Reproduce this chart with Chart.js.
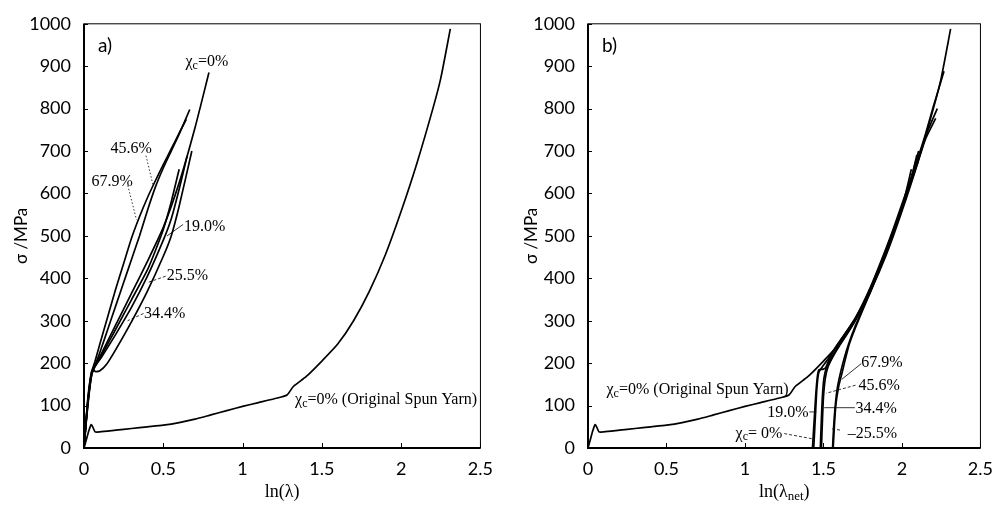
<!DOCTYPE html>
<html>
<head>
<meta charset="utf-8">
<script src="https://cdn.jsdelivr.net/npm/chart.js@4"></script>
<style>
  body { margin: 0; background: #fff; width: 1003px; height: 508px; position: relative; overflow: hidden; }
  .panel { position: absolute; top: 0; height: 508px; width: 503px; }
  #pa { left: 0; }
  #pb { left: 500px; }
</style>
</head>
<body>
<div class="panel" id="pa"><canvas id="chartA"></canvas></div>
<div class="panel" id="pb"><canvas id="chartB"></canvas></div>
<script>
// tick values
const xTickValues = [0, 0.5, 1, 1.5, 2, 2.5];
const yTickValues = [0, 100, 200, 300, 400, 500, 600, 700, 800, 900, 1000];

// original spun yarn (same curve in both panels) [ln(lambda), sigma MPa]
const spunYarn = [[0,0],[0.015,20],[0.03,40],[0.045,55],[0.055,50],[0.07,38],[0.1,38],[0.2,42],[0.3,46],[0.4,50],
  [0.5,54],[0.6,60],[0.7,68],[0.8,78],[0.9,88],[1.0,98],[1.1,107],[1.2,116],[1.28,125],[1.32,145],[1.4,168],
  [1.5,205],[1.6,245],[1.7,300],[1.8,370],[1.9,455],[2.0,558],[2.1,672],[2.2,800],[2.25,872],[2.31,988]];

// panel a) : sigma vs ln(lambda)
const a_chi0 = [[0,0],[0.01,45],[0.025,110],[0.05,175],[0.08,200],[0.12,230],[0.2,290],[0.3,365],[0.4,440],[0.5,520],[0.6,625],[0.7,755],[0.788,885]];
const a_chi19 = [[0,0],[0.01,45],[0.03,120],[0.045,165],[0.058,184],[0.072,180],[0.1,182],[0.14,196],[0.2,232],[0.3,298],[0.4,370],[0.5,452],[0.55,500],[0.6,570],[0.68,700]];
const a_chi25 = [[0,0],[0.01,48],[0.03,125],[0.05,180],[0.08,200],[0.12,225],[0.2,280],[0.3,350],[0.4,420],[0.45,465],[0.5,515],[0.55,580],[0.6,657]];
const a_chi34 = [[0,0],[0.01,50],[0.03,130],[0.05,182],[0.08,198],[0.12,220],[0.2,268],[0.3,332],[0.4,405],[0.5,490],[0.55,540],[0.6,610],[0.65,688]];
const a_chi45 = [[0,0],[0.01,50],[0.025,115],[0.045,170],[0.07,195],[0.1,225],[0.15,280],[0.2,335],[0.25,390],[0.3,445],[0.35,500],[0.4,560],[0.45,615],[0.5,660],[0.55,700],[0.6,740],[0.667,798]];
const a_chi67 = [[0,0],[0.01,50],[0.025,120],[0.045,175],[0.07,205],[0.1,245],[0.15,310],[0.2,375],[0.25,435],[0.3,495],[0.35,545],[0.4,590],[0.45,630],[0.5,668],[0.55,705],[0.6,742],[0.645,775]];

// panel b) : sigma vs ln(lambda_net)
const b_chi0 = [[1.43,0],[1.44,60],[1.45,120],[1.46,165],[1.47,184],[1.5,186],[1.515,190],[1.54,212],[1.58,238],[1.62,260],[1.66,282],[1.7,305],[1.75,340],[1.8,380],[1.85,425],[1.9,472],[1.95,522],[2.0,575],[2.05,628],[2.1,682],[2.15,740],[2.2,805],[2.268,888]];
const b_chi19 = [[1.438,0],[1.448,70],[1.458,140],[1.47,178],[1.49,190],[1.52,205],[1.56,228],[1.6,250],[1.65,276],[1.7,303],[1.75,338],[1.8,377],[1.85,421],[1.9,468],[1.95,518],[2.0,570],[2.05,625],[2.106,700]];
const b_chi25 = [[1.558,0],[1.565,50],[1.575,100],[1.59,145],[1.61,180],[1.635,215],[1.66,245],[1.7,285],[1.75,328],[1.8,370],[1.85,415],[1.9,462],[1.95,512],[2.0,565],[2.06,657]];
const b_chi34 = [[1.48,0],[1.486,60],[1.493,120],[1.503,165],[1.52,190],[1.55,212],[1.6,243],[1.65,272],[1.7,302],[1.75,336],[1.8,376],[1.85,420],[1.9,467],[1.95,517],[2.0,569],[2.05,622],[2.095,691]];
const b_chi45 = [[1.487,0],[1.493,60],[1.5,120],[1.512,165],[1.53,192],[1.56,215],[1.6,240],[1.65,268],[1.7,298],[1.75,333],[1.8,373],[1.85,418],[1.9,465],[1.95,515],[2.0,567],[2.05,620],[2.1,676],[2.15,735],[2.225,800]];
const b_chi67 = [[1.562,0],[1.57,55],[1.58,105],[1.597,145],[1.617,175],[1.64,210],[1.665,245],[1.7,280],[1.75,325],[1.8,368],[1.85,414],[1.9,462],[1.95,512],[2.0,565],[2.05,618],[2.1,672],[2.15,728],[2.215,777]];

// text labels, in data units
const labelsA = [
  { parts: [['χ'], ['c', 1], ['=0%']], x: 0.64, y: 912, align: 'left' },
  { parts: [['45.6%']], x: 0.297, y: 707, align: 'center' },
  { parts: [['67.9%']], x: 0.177, y: 629, align: 'center' },
  { parts: [['19.0%']], x: 0.63, y: 525, align: 'left' },
  { parts: [['25.5%']], x: 0.522, y: 409, align: 'left' },
  { parts: [['34.4%']], x: 0.379, y: 320, align: 'left' },
  { parts: [['χ'], ['c', 1], ['=0% (Original Spun Yarn)']], x: 1.331, y: 116, align: 'left' }
];
const leadersA = [
  { from: [0.391, 689], to: [0.436, 619], dash: [1.5, 2] },
  { from: [0.276, 619], to: [0.331, 538], dash: [1.5, 2] },
  { from: [0.625, 527], to: [0.524, 500], dash: [] },
  { from: [0.515, 405], to: [0.40, 390], dash: [3, 2] },
  { from: [0.375, 317], to: [0.275, 300], dash: [3, 2] }
];
const labelsB = [
  { parts: [['χ'], ['c', 1], ['=0% (Original Spun Yarn)']], x: 0.118, y: 139, align: 'left' },
  { parts: [['67.9%']], x: 1.741, y: 203, align: 'left' },
  { parts: [['45.6%']], x: 1.723, y: 150, align: 'left' },
  { parts: [['34.4%']], x: 1.704, y: 95, align: 'left' },
  { parts: [['–25.5%']], x: 1.655, y: 37, align: 'left' },
  { parts: [['19.0%']], x: 1.405, y: 85, align: 'right' },
  { parts: [['χ'], ['c', 1], ['= 0%']], x: 1.238, y: 37, align: 'right' }
];
const leadersB = [
  { from: [1.741, 199], to: [1.617, 162], dash: [] },
  { from: [1.704, 148], to: [1.517, 129], dash: [3, 2] },
  { from: [1.70, 95], to: [1.505, 95], dash: [] },
  { from: [1.555, 45], to: [1.61, 42], dash: [3, 2] },
  { from: [1.41, 85], to: [1.455, 85], dash: [] },
  { from: [1.25, 34], to: [1.425, 22], dash: [3, 2] }
];

const SERIF = '"Liberation Serif", "Times New Roman", serif';
const SANS = 'Lato, "Open Sans", sans-serif';

function richText(ctx, parts, x, y, align, size) {
  const subSize = Math.round(size * 0.72);
  let total = 0;
  const widths = parts.map(p => {
    ctx.font = (p[1] ? subSize : size) + 'px ' + SERIF;
    const w = ctx.measureText(p[0]).width;
    total += w;
    return w;
  });
  let cx = align === 'center' ? x - total / 2 : align === 'right' ? x - total : x;
  ctx.textAlign = 'left';
  ctx.textBaseline = 'alphabetic';
  parts.forEach((p, i) => {
    ctx.font = (p[1] ? subSize : size) + 'px ' + SERIF;
    ctx.fillText(p[0], cx, y + size * 0.33 + (p[1] ? size * 0.18 : 0));
    cx += widths[i];
  });
}

function makeDataset(points, width) {
  return {
    data: points.map(p => ({ x: p[0], y: p[1] })),
    showLine: true,
    borderColor: '#000',
    backgroundColor: '#000',
    borderWidth: width,
    pointRadius: 0,
    tension: 0.2,
    fill: false
  };
}

function decorPlugin(opts) {
  return {
    id: 'decor',
    afterDraw(chart) {
      const ctx = chart.ctx;
      const area = chart.chartArea;
      const xs = chart.scales.x, ys = chart.scales.y;
      ctx.save();
      // frame
      ctx.strokeStyle = '#000';
      ctx.lineWidth = 1;
      ctx.strokeRect(area.left, area.top, area.right - area.left, area.bottom - area.top);
      ctx.lineWidth = 2;
      ctx.beginPath();
      ctx.moveTo(area.left, area.top);
      ctx.lineTo(area.left, area.bottom);
      ctx.lineTo(area.right, area.bottom);
      ctx.stroke();
      // inner ticks
      ctx.lineWidth = 1;
      ctx.beginPath();
      xTickValues.forEach(v => {
        const px = Math.round(xs.getPixelForValue(v)) + 0.5;
        ctx.moveTo(px, area.bottom);
        ctx.lineTo(px, area.bottom - 5);
      });
      yTickValues.forEach(v => {
        const py = Math.round(ys.getPixelForValue(v)) + 0.5;
        ctx.moveTo(area.left, py);
        ctx.lineTo(area.left + 4, py);
      });
      ctx.stroke();
      // panel letter
      ctx.fillStyle = '#000';
      ctx.font = '19px ' + SANS;
      ctx.textAlign = 'left';
      ctx.textBaseline = 'alphabetic';
      ctx.fillText(opts.letter, area.left + 14, area.top + 28);
      // y title
      ctx.save();
      ctx.translate(opts.yTitleX, (area.top + area.bottom) / 2);
      ctx.rotate(-Math.PI / 2);
      ctx.font = '17px ' + SANS;
      ctx.textAlign = 'center';
      ctx.textBaseline = 'middle';
      ctx.fillText('σ /MPa', 0, 0);
      ctx.restore();
      // x title
      richText(ctx, opts.xTitle, (area.left + area.right) / 2, 491, 'center', 18);
      // leaders
      ctx.lineWidth = 0.8;
      opts.leaders.forEach(l => {
        ctx.setLineDash(l.dash);
        ctx.beginPath();
        ctx.moveTo(xs.getPixelForValue(l.from[0]), ys.getPixelForValue(l.from[1]));
        ctx.lineTo(xs.getPixelForValue(l.to[0]), ys.getPixelForValue(l.to[1]));
        ctx.stroke();
      });
      ctx.setLineDash([]);
      // labels
      opts.labels.forEach(l => {
        richText(ctx, l.parts, xs.getPixelForValue(l.x), ys.getPixelForValue(l.y), l.align, 16);
      });
      ctx.restore();
    }
  };
}

function makeChart(id, curves, opts) {
  return new Chart(document.getElementById(id), {
    type: 'scatter',
    data: { datasets: curves.map(c => makeDataset(c, 1.7)) },
    options: {
      responsive: true,
      maintainAspectRatio: false,
      animation: false,
      layout: { padding: { top: opts.padTop, right: opts.padRight, left: 0, bottom: 0 } },
      plugins: { legend: { display: false }, tooltip: { enabled: false } },
      scales: {
        x: {
          type: 'linear', min: 0, max: 2.5,
          afterBuildTicks: s => { s.ticks = xTickValues.map(v => ({ value: v })); },
          afterFit: s => { s.height = 60; },
          grid: { display: false, drawTicks: false },
          border: { display: false },
          ticks: { color: '#000', font: { family: SANS, size: 18 }, padding: 10, maxRotation: 0,
                   callback: v => String(v) }
        },
        y: {
          type: 'linear', min: 0, max: 1000,
          afterBuildTicks: s => { s.ticks = yTickValues.map(v => ({ value: v })); },
          afterFit: s => { s.width = opts.yWidth; },
          grid: { display: false, drawTicks: false },
          border: { display: false },
          ticks: { color: '#000', font: { family: SANS, size: 18 }, padding: 13,
                   callback: v => String(v) }
        }
      }
    },
    plugins: [decorPlugin(opts)]
  });
}

makeChart('chartA', [spunYarn, a_chi0, a_chi19, a_chi25, a_chi34, a_chi45, a_chi67], {
  padTop: 17, padRight: 17, yWidth: 84, yTitleX: 22, letter: 'a)',
  xTitle: [['ln(λ)']], labels: labelsA, leaders: leadersA
});
makeChart('chartB', [spunYarn, b_chi0, b_chi19, b_chi25, b_chi34, b_chi45, b_chi67], {
  padTop: 15, padRight: 13, yWidth: 88, yTitleX: 32, letter: 'b)',
  xTitle: [['ln(λ'], ['net', 1], [')']], labels: labelsB, leaders: leadersB
});
</script>
</body>
</html>
